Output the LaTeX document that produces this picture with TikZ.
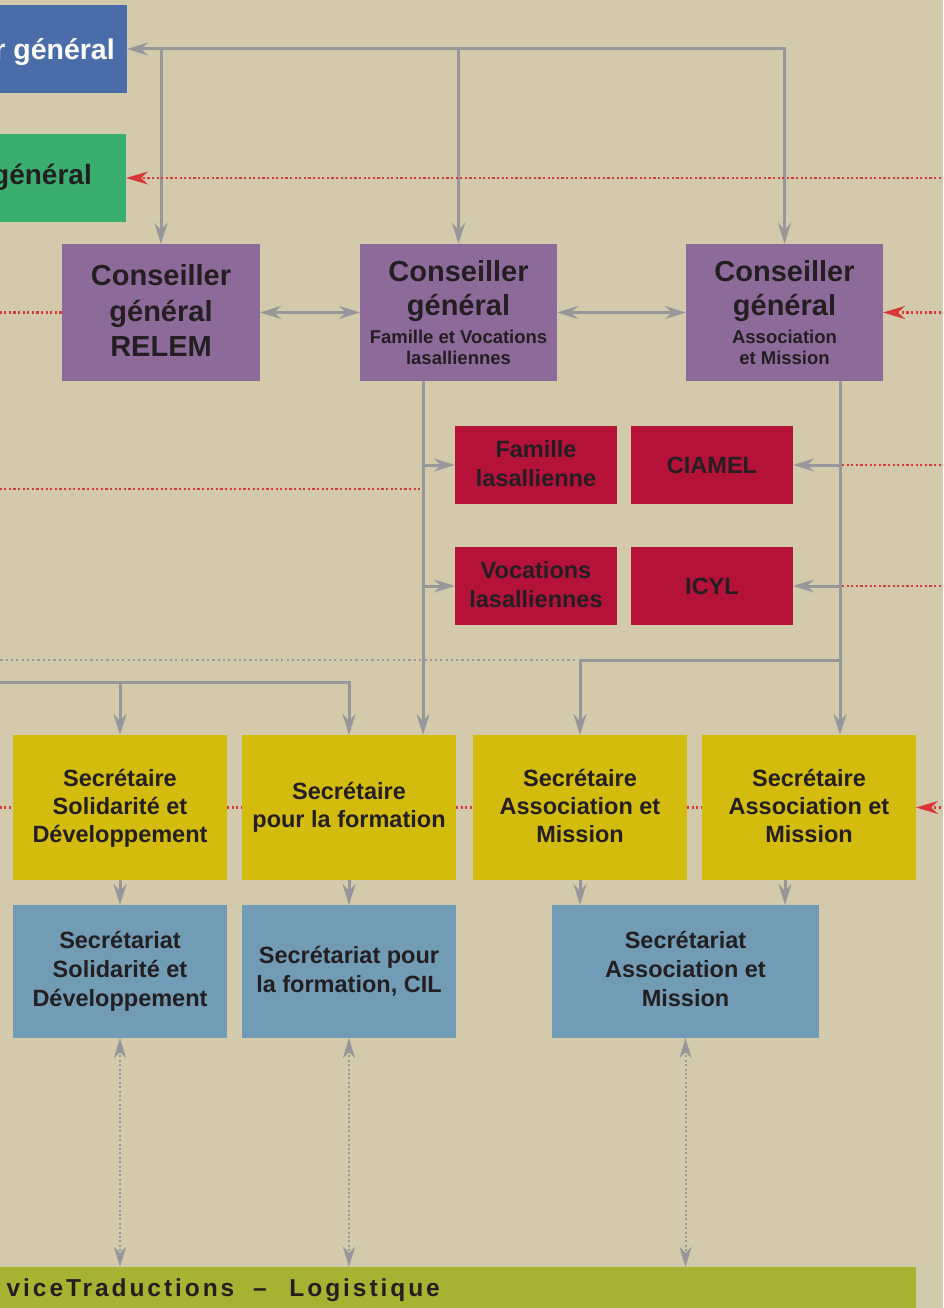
\documentclass[tikz,border=0pt]{standalone}
\usepackage{fontspec}
\setmainfont{Liberation Sans}
\usetikzlibrary{arrows.meta,calc}
\definecolor{bg}{HTML}{D3CAAB}
\definecolor{cblue}{HTML}{4A6CA8}
\definecolor{cgreen}{HTML}{3AAE6E}
\definecolor{cpurple}{HTML}{8C6A9A}
\definecolor{cred}{HTML}{B5123A}
\definecolor{cyellow}{HTML}{D4BC0E}
\definecolor{cbgray}{HTML}{729BB5}
\definecolor{cbar}{HTML}{A8B232}
\definecolor{lgray}{HTML}{97979B}
\definecolor{rred}{HTML}{D9363A}
\definecolor{ink}{HTML}{231F20}
\begin{document}
\begin{tikzpicture}[x=1pt,y=-1pt,
  box/.style={draw=none,inner sep=0pt,outer sep=0pt},
  tx/.style={anchor=base,inner sep=0pt,text=ink,font=\fontsize{#1}{#1}\selectfont\bfseries},
  gline/.style={draw=lgray,line width=3pt},
  garr/.style={gline,-{Stealth[length=21pt,width=13pt,inset=7pt]}},
  gdarr/.style={gline,{Stealth[length=21pt,width=13pt,inset=7pt]}-{Stealth[length=21pt,width=13pt,inset=7pt]}},
  rdot/.style={draw=rred,line width=2.2pt,dash pattern=on 2.2pt off 2.4pt},
  rdarr/.style={rdot,-{Stealth[length=22pt,width=13pt,inset=7pt]}},
  gdot/.style={draw=lgray,line width=2.2pt,dash pattern=on 2.2pt off 3.1pt},
  gvdot/.style={draw=lgray,line width=2pt,dash pattern=on 2pt off 2.4pt,
    {Stealth[length=20pt,width=12pt,inset=6pt]}-{Stealth[length=20pt,width=12pt,inset=6pt]}}
]
\useasboundingbox (0,0) rectangle (943,1308);
\fill[bg] (0,0) rectangle (943,1308);
\begin{scope}
\clip (0,0) rectangle (943,1308);

% boxes
\node[box,fill=cblue,minimum width=187,minimum height=88] (dg) at (33.5,49) {};
\node[box,fill=cgreen,minimum width=186,minimum height=88] (vg) at (33,178) {};
\node[box,fill=cpurple,minimum width=198,minimum height=137] (relem) at (161,312.5) {};
\node[box,fill=cpurple,minimum width=197,minimum height=137] (fv) at (458.5,312.5) {};
\node[box,fill=cpurple,minimum width=197,minimum height=137] (am) at (784.5,312.5) {};
\node[box,fill=cred,minimum width=162,minimum height=78] (fam) at (536,465) {};
\node[box,fill=cred,minimum width=162,minimum height=78] (ciamel) at (712,465) {};
\node[box,fill=cred,minimum width=162,minimum height=78] (voc) at (536,586) {};
\node[box,fill=cred,minimum width=162,minimum height=78] (icyl) at (712,586) {};
\node[box,fill=cyellow,minimum width=214,minimum height=145] (sSol) at (120,807.5) {};
\node[box,fill=cyellow,minimum width=214,minimum height=145] (sFor) at (349,807.5) {};
\node[box,fill=cyellow,minimum width=214,minimum height=145] (sAM1) at (580,807.5) {};
\node[box,fill=cyellow,minimum width=214,minimum height=145] (sAM2) at (809,807.5) {};
\node[box,fill=cbgray,minimum width=214,minimum height=133] (tSol) at (120,971.5) {};
\node[box,fill=cbgray,minimum width=214,minimum height=133] (tFor) at (349,971.5) {};
\node[box,fill=cbgray,minimum width=267,minimum height=133] (tAM) at (685.5,971.5) {};
\node[box,fill=cbar,minimum width=976,minimum height=46] (bar) at (428,1290) {};

% texts
\node[tx=28.5,anchor=base east,text=white] (dgT) at (115,60) {r général};
\node[tx=28,anchor=base east] (vgT) at (92,185) {général};

\node[tx=29] (relemT1) at (161,285) {Conseiller};
\node[tx=29] (relemT2) at (161,321) {général};
\node[tx=29] (relemT3) at (161,356) {RELEM};

\node[tx=29] (fvT1) at (458.5,281) {Conseiller};
\node[tx=29] (fvT2) at (458.5,315) {général};
\node[tx=18.5] (fvT3) at (458.5,343) {Famille et Vocations};
\node[tx=18.5] (fvT4) at (458.5,364.5) {lasalliennes};

\node[tx=29] (amT1) at (784.5,281) {Conseiller};
\node[tx=29] (amT2) at (784.5,315) {général};
\node[tx=18.5] (amT3) at (784.5,343) {Association};
\node[tx=18.5] (amT4) at (784.5,364.5) {et Mission};

\node[tx=23.5] (famT1) at (536,457) {Famille};
\node[tx=23.5] (famT2) at (536,486) {lasallienne};
\node[tx=23.5] (ciamelT) at (712,473) {CIAMEL};
\node[tx=23.5] (vocT1) at (536,578) {Vocations};
\node[tx=23.5] (vocT2) at (536,607) {lasalliennes};
\node[tx=23.5] (icylT) at (712,594) {ICYL};

\node[tx=23.5] (sSolT1) at (120,786) {Secrétaire};
\node[tx=23.5] (sSolT2) at (120,814) {Solidarité et};
\node[tx=23.5] (sSolT3) at (120,842) {Développement};
\node[tx=23.5] (sForT1) at (349,799) {Secrétaire};
\node[tx=23.5] (sForT2) at (349,827) {pour la formation};
\node[tx=23.5] (sAM1T1) at (580,786) {Secrétaire};
\node[tx=23.5] (sAM1T2) at (580,814) {Association et};
\node[tx=23.5] (sAM1T3) at (580,842) {Mission};
\node[tx=23.5] (sAM2T1) at (809,786) {Secrétaire};
\node[tx=23.5] (sAM2T2) at (809,814) {Association et};
\node[tx=23.5] (sAM2T3) at (809,842) {Mission};

\node[tx=23.5] (tSolT1) at (120,948) {Secrétariat};
\node[tx=23.5] (tSolT2) at (120,977) {Solidarité et};
\node[tx=23.5] (tSolT3) at (120,1006) {Développement};
\node[tx=23.5] (tForT1) at (349,963) {Secrétariat pour};
\node[tx=23.5] (tForT2) at (349,992) {la formation, CIL};
\node[tx=23.5] (tAMT1) at (685.5,948) {Secrétariat};
\node[tx=23.5] (tAMT2) at (685.5,977) {Association et};
\node[tx=23.5] (tAMT3) at (685.5,1006) {Mission};

\node[anchor=base east,inner sep=0pt,text=ink,font=\fontsize{24.5}{24.5}\selectfont\bfseries\addfontfeature{LetterSpace=12}] (barT) at (440,1296) {viceTraductions\hspace{9pt} – \hspace{13pt}Logistique};

% top connectors
\coordinate (hL) at (161,49);
\coordinate (hM) at (458.5,49);
\coordinate (hR) at (784.5,49);
\draw[garr,line cap=rect] (hR) -- (dg.east);
\draw[garr,line cap=rect] (hL) -- (relem.north);
\draw[garr,line cap=rect] (hM) -- (fv.north);
\draw[garr,line cap=rect] (hR) -- (am.north);
\coordinate (eG) at (950,178);
\draw[rdarr] (eG) -- (vg.east);

\draw[gdarr] (relem.east) -- (fv.west);
\draw[gdarr] (fv.east) -- (am.west);
\coordinate (wA) at (-5,312.5);
\draw[rdot] (wA) -- (relem.west);
\coordinate (eA) at (950,312.5);
\draw[rdarr] (eA) -- (am.east);

% from FV
\coordinate (fvd) at (423,381);
\draw[garr] (fvd) -- (fvd |- sFor.north);
\draw[garr] (fvd |- fam.west) -- (fam.west);
\draw[garr] (fvd |- voc.west) -- (voc.west);
\coordinate (wF) at (-5,489);
\coordinate (fF) at (421,489);
\draw[rdot] (wF) -- (fF);

% from AM
\coordinate (amd) at (840,381);
\draw[garr] (amd) -- (amd |- sAM2.north);
\draw[garr] (amd |- ciamel.east) -- (ciamel.east);
\draw[garr] (amd |- icyl.east) -- (icyl.east);
\coordinate (eC) at (950,465);
\draw[rdot] (eC) -- (amd |- eC);
\coordinate (eI) at (950,586);
\draw[rdot] (eI) -- (amd |- eI);
\coordinate (j660) at (840,660);
\draw[garr,line cap=rect] (j660) -| (sAM1.north);
\coordinate (wD) at (-5,660);
\coordinate (dD) at (577,660);
\draw[gdot] (wD) -- (dD);

% left line to secretaries
\coordinate (wL) at (-5,682);
\draw[garr] (wL) -| (sFor.north);
\draw[garr] (sSol.north |- wL) -- (sSol.north);

% red dotted between secretaries
\coordinate (wS) at (-5,807.5);
\draw[rdot] (wS) -- (sSol.west);
\draw[rdot] (sSol.east) -- (sFor.west);
\draw[rdot] (sFor.east) -- (sAM1.west);
\draw[rdot] (sAM1.east) -- (sAM2.west);
\coordinate (eS) at (950,807.5);
\draw[rdarr] (eS) -- (sAM2.east);

% secretaries to secretariats
\draw[garr] (sSol.south) -- (tSol.north);
\draw[garr] (sFor.south) -- (tFor.north);
\draw[garr] (sAM1.south) -- (sAM1.south |- tAM.north);
\coordinate (s4) at (785,880);
\draw[garr] (s4) -- (s4 |- tAM.north);

% secretariats to bar
\draw[gvdot] (tSol.south) -- (tSol.south |- bar.north);
\draw[gvdot] (tFor.south) -- (tFor.south |- bar.north);
\draw[gvdot] (tAM.south) -- (tAM.south |- bar.north);
\end{scope}
\end{tikzpicture}
\end{document}
